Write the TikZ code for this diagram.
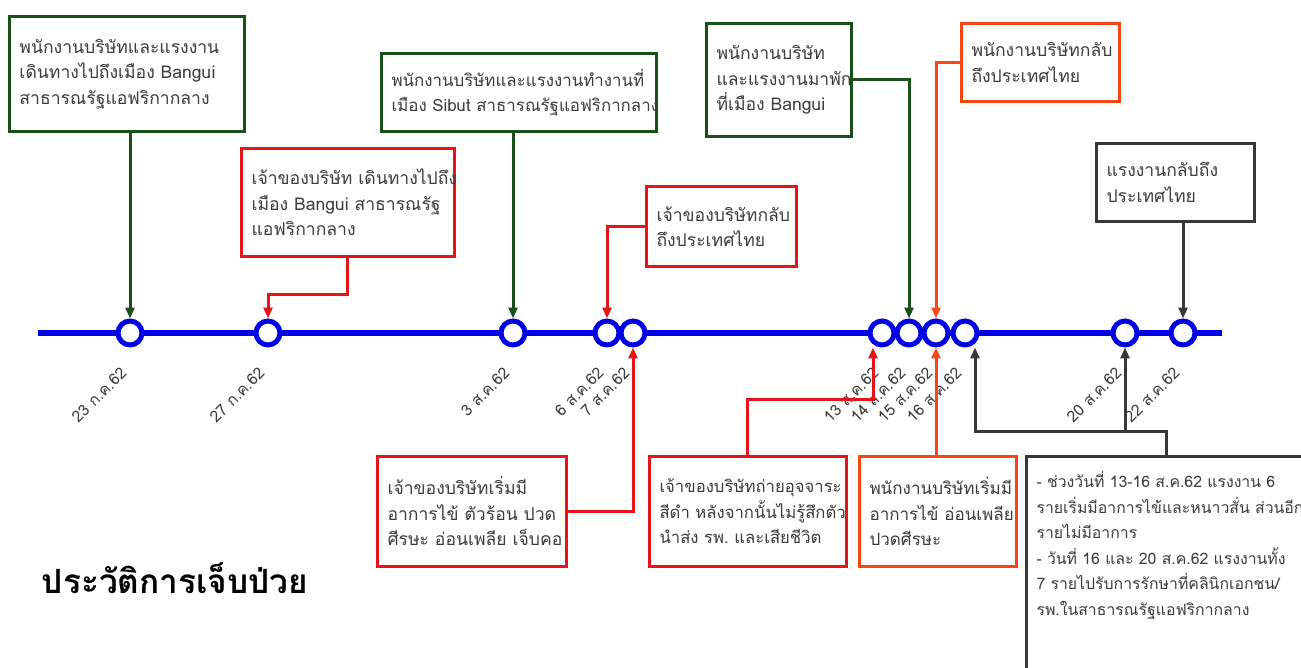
\documentclass[tikz,border=0pt]{standalone}
\usepackage{fontspec}
\setmainfont[Script=Thai]{Loma}
\usetikzlibrary{arrows.meta}

\definecolor{tlblue}{RGB}{0,0,230}
\definecolor{boxgreen}{RGB}{25,80,25}
\definecolor{boxred}{RGB}{230,20,25}
\definecolor{boxorange}{RGB}{250,70,20}
\definecolor{boxgray}{RGB}{55,55,55}
\definecolor{txtgray}{RGB}{60,60,60}

\newcommand\notesize{\fontsize{10}{14.5}\selectfont}

\tikzset{
  tl/.style={line width=0.12cm, draw=tlblue},
  dot/.style={circle, draw=tlblue, line width=0.1cm, fill=white, minimum size=0.48cm, inner sep=0pt},
  date/.style={rotate=45, anchor=east, font=\small, text=txtgray, inner sep=1pt},
  note/.style={draw=#1, line width=0.06cm, fill=white, anchor=north west, align=left,
    inner xsep=0.2cm, text=txtgray, font=\notesize},
  link/.style={draw=#1, line width=0.06cm, -{Triangle[length=0.22cm,width=0.18cm]}}
}

\begin{document}
\begin{tikzpicture}[x=0.02cm, y=-0.02cm]
  \useasboundingbox (0,0) rectangle (1301,668);

  % timeline
  \coordinate (tlL) at (38,333);
  \coordinate (tlR) at (1222,333);
  \draw[tl] (tlL) -- (tlR);

  \foreach \x/\n in {130/d23, 268/d27, 513/d3, 607/d6, 633/d7, 882/d13, 909/d14, 936/d15, 965/d16, 1125/d20, 1183/d22}
    \node[dot] (\n) at (\x,333) {};

  \foreach \n/\t in {d23/23 ก.ค.62, d27/27 ก.ค.62, d3/3 ส.ค.62, d6/6 ส.ค.62, d7/7 ส.ค.62, d13/13 ส.ค.62, d14/14 ส.ค.62, d15/15 ส.ค.62, d16/16 ส.ค.62, d20/20 ส.ค.62, d22/22 ส.ค.62}
    \node[date] (l\n) at ([shift={(-5,36)}]\n) {\t};

  % boxes above the line
  \node[note=boxgreen, text width=4.3cm, minimum height=2.3cm] (b1) at (8,15)
    {พนักงานบริษัทและแรงงาน\\เดินทางไปถึงเมือง~Bangui\\สาธารณรัฐแอฟริกากลาง};
  \node[note=boxgreen, text width=5.1cm, minimum height=1.56cm, font=\fontsize{9.6}{14.5}\selectfont] (b2) at (380,52)
    {พนักงานบริษัทและแรงงานทำงานที่\\เมือง~Sibut~สาธารณรัฐแอฟริกากลาง};
  \node[note=boxred, text width=3.86cm, minimum height=2.16cm] (b3) at (240,147)
    {เจ้าของบริษัท~เดินทางไปถึง\\เมือง~Bangui~สาธารณรัฐ\\แอฟริกากลาง};
  \node[note=boxred, text width=2.6cm, minimum height=1.6cm] (b4) at (645,185)
    {เจ้าของบริษัทกลับ\\ถึงประเทศไทย};
  \node[note=boxgreen, text width=2.5cm, minimum height=2.26cm] (b5) at (705,22)
    {พนักงานบริษัท\\และแรงงานมาพัก\\ที่เมือง~Bangui};
  \node[note=boxorange, text width=2.76cm, minimum height=1.56cm] (b6) at (960,22)
    {พนักงานบริษัทกลับ\\ถึงประเทศไทย};
  \node[note=boxgray, text width=2.76cm, minimum height=1.56cm] (b7) at (1095,142)
    {แรงงานกลับถึง\\ประเทศไทย};

  % boxes below the line
  \node[note=boxred, text width=3.38cm, minimum height=2.2cm] (b8) at (376,455)
    {เจ้าของบริษัทเริ่มมี\\อาการไข้~ตัวร้อน~ปวด\\ศีรษะ~อ่อนเพลีย~เจ็บคอ};
  \node[note=boxred, text width=3.54cm, minimum height=2.2cm, font=\fontsize{9.5}{14.5}\selectfont] (b9) at (648,455)
    {เจ้าของบริษัทถ่ายอุจจาระ\\สีดำ~หลังจากนั้นไม่รู้สึกตัว\\นำส่ง~รพ.~และเสียชีวิต};
  \node[note=boxorange, text width=2.74cm, minimum height=2.2cm, font=\fontsize{9.7}{14.5}\selectfont] (b10) at (858,455)
    {พนักงานบริษัทเริ่มมี\\อาการไข้~อ่อนเพลีย\\ปวดศีรษะ};
  \node[note=boxgray, text width=5.2cm, inner ysep=0.3cm, text depth=4cm,
        font=\fontsize{9}{14.5}\selectfont] (b11) at (1025,455)
    {\mbox{- ช่วงวันที่ 13-16 ส.ค.62 แรงงาน 6}\\\mbox{รายเริ่มมีอาการไข้และหนาวสั่น ส่วนอีก}\\\mbox{รายไม่มีอาการ}\\\mbox{- วันที่ 16 และ 20 ส.ค.62 แรงงานทั้ง}\\\mbox{7 รายไปรับการรักษาที่คลินิกเอกชน/}\\\mbox{รพ.ในสาธารณรัฐแอฟริกากลาง}};

  % connectors
  \draw[link=boxgreen] (d23 |- b1.south) -- (d23.north);
  \draw[link=boxred] (b3.south) -- ++(0,37) -| (d27.north);
  \draw[link=boxgreen] (d3 |- b2.south) -- (d3.north);
  \draw[link=boxred] (b4.west) -| (d6.north);
  \draw[link=boxgreen] (b5.east) -| (d14.north);
  \draw[link=boxorange] (b6.west) -| (d15.north);
  \draw[link=boxgray] (d22 |- b7.south) -- (d22.north);
  \draw[link=boxred] (b8.east) -| (d7.south);
  \draw[link=boxred] (b9.north) -- ++(0,-55) -| ([xshift=-0.18cm]d13.south);
  \draw[link=boxorange] (d15 |- b10.north) -- (d15.south);
  \draw[link=boxgray] (b11.north) -- ++(0,-23) coordinate (kturn) -| ([xshift=0.2cm]d16.south);
  \draw[link=boxgray] (d20 |- kturn) -- (d20.south);

  \node[font=\fontsize{19}{23}\selectfont\bfseries] (title) at (175,578) {ประวัติการเจ็บป่วย};
\end{tikzpicture}
\end{document}
